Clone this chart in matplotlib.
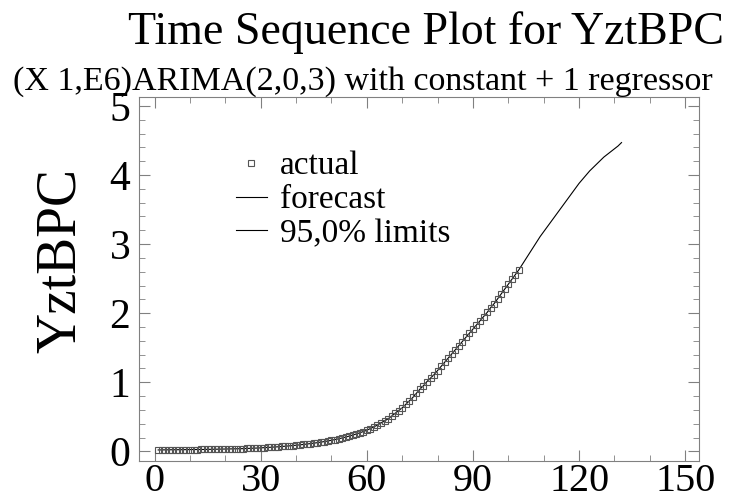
import matplotlib.pyplot as plt
from matplotlib.ticker import MultipleLocator
from matplotlib.lines import Line2D

plt.rcParams['font.family'] = ['Liberation Serif', 'DejaVu Serif']

# observed values, t = 1..103
actual = [
    0.020, 0.021, 0.022, 0.022, 0.023, 0.023, 0.024, 0.024, 0.025, 0.025,
    0.026, 0.026, 0.027, 0.027, 0.028, 0.029, 0.030, 0.031, 0.032, 0.033,
    0.034, 0.035, 0.036, 0.038, 0.039, 0.041, 0.043, 0.045, 0.047, 0.050,
    0.053, 0.056, 0.059, 0.062, 0.066, 0.070, 0.074, 0.078, 0.083, 0.088,
    0.093, 0.099, 0.105, 0.111, 0.118, 0.125, 0.133, 0.141, 0.150, 0.160,
    0.170, 0.181, 0.193, 0.206, 0.220, 0.235, 0.251, 0.268, 0.286, 0.305,
    0.330, 0.355, 0.380, 0.410, 0.440, 0.470, 0.510, 0.550, 0.590, 0.630,
    0.680, 0.730, 0.780, 0.840, 0.900, 0.950, 1.010, 1.060, 1.110, 1.170,
    1.230, 1.290, 1.350, 1.410, 1.470, 1.530, 1.590, 1.650, 1.710, 1.770,
    1.830, 1.890, 1.950, 2.010, 2.080, 2.140, 2.210, 2.280, 2.350, 2.420,
    2.490, 2.560, 2.630,
]

# forecasts, t = 104..132
forecast = [
    2.71, 2.79, 2.87, 2.95, 3.03, 3.11, 3.18, 3.25, 3.32, 3.39,
    3.46, 3.53, 3.60, 3.67, 3.74, 3.81, 3.88, 3.94, 4.00, 4.06,
    4.11, 4.16, 4.21, 4.26, 4.30, 4.34, 4.38, 4.42, 4.47,
]

t_actual = list(range(1, len(actual) + 1))
t_forecast = list(range(len(actual) + 1, len(actual) + len(forecast) + 1))

fig = plt.figure(figsize=(7.3, 5.0), dpi=100)
ax = fig.add_axes([0.19, 0.078, 0.768, 0.728])

# fitted + forecast line (the 95% limits sit on top of it at this scale)
ax.plot(t_actual + t_forecast, actual + forecast, color='black', lw=0.8)
ax.plot(t_actual, actual, ls='none', marker='s', ms=4.5, mfc='none',
        mec='#555555', mew=0.8)

ax.set_xlim(-4.5, 154)
ax.set_ylim(-0.14, 5.13)
ax.xaxis.set_major_locator(MultipleLocator(30))
ax.xaxis.set_minor_locator(MultipleLocator(10))
ax.yaxis.set_major_locator(MultipleLocator(1))
ax.yaxis.set_minor_locator(MultipleLocator(0.2))
ax.tick_params(which='both', direction='in', top=True, right=True,
               color='#808080', labelsize=30)
ax.tick_params(axis='x', pad=1.5, labelsize=29)
ax.tick_params(axis='y', pad=6)
ax.tick_params(which='major', length=8)
ax.tick_params(which='minor', length=4)
for s in ax.spines.values():
    s.set_color('#808080')

ax.set_ylabel('YztBPC', fontsize=40)
ax.yaxis.set_label_coords(-0.092, 0.552)

fig.text(0.583, 0.978, 'Time Sequence Plot for YztBPC', ha='center', va='top',
         fontsize=33)
fig.text(0.497, 0.868, '(X 1,E6)ARIMA(2,0,3) with constant + 1 regressor',
         ha='center', va='top', fontsize=24.5)

handles = [
    Line2D([], [], ls='none', marker='s', ms=4, mfc='none', mec='#555555', mew=0.8),
    Line2D([], [], color='black', lw=0.8),
    Line2D([], [], color='black', lw=0.8),
]
ax.legend(handles, ['actual', 'forecast', '95,0% limits'], loc='upper left',
          bbox_to_anchor=(0.173, 0.852), frameon=False, fontsize=24,
          handlelength=0.93, handletextpad=0.39, labelspacing=0.1,
          borderaxespad=0, borderpad=0)

fig.savefig('out.png', dpi=100)
